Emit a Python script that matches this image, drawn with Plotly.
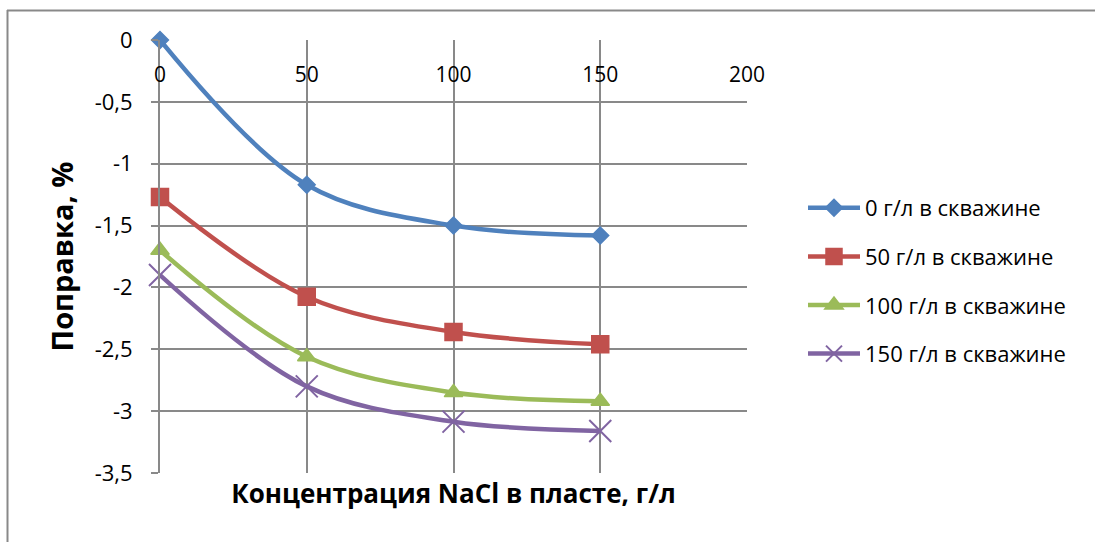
import plotly.graph_objects as go

# Concentration of NaCl in the formation, g/l
conc = [0, 50, 100, 150]

# Correction (%) for each NaCl concentration in the well
corr_0 = [0.0, -1.17, -1.50, -1.58]
corr_50 = [-1.27, -2.075, -2.36, -2.46]
corr_100 = [-1.70, -2.56, -2.85, -2.92]
corr_150 = [-1.90, -2.80, -3.085, -3.16]

series_names = [
    "0 г/л в скважине",
    "50 г/л в скважине",
    "100 г/л в скважине",
    "150 г/л в скважине",
]
series_values = [corr_0, corr_50, corr_100, corr_150]

x_ticks = [0, 50, 100, 150, 200]
y_ticks = [0, -0.5, -1, -1.5, -2, -2.5, -3, -3.5]

colors = ["#4F81BD", "#C0504D", "#9BBB59", "#8064A2"]
symbols = ["diamond", "square", "triangle-up", "x-thin"]
sizes = [13, 17, 16, 22]
mline = [1.5, 1.5, 1.5, 2]

W, H = 1095, 542
L, R, T, B = 160, 348, 40, 69
FONT = "'Open Sans', sans-serif"
GRID = "#898989"


def fmt(v):
    # decimal comma and a plain hyphen for negative values
    return f"{v:g}".replace(".", ",")


fig = go.Figure()
for i, (name, vals) in enumerate(zip(series_names, series_values)):
    fig.add_trace(go.Scatter(
        x=conc, y=vals, name=name, mode="lines+markers",
        line=dict(color=colors[i], width=4.5, shape="spline", smoothing=1.0),
        marker=dict(symbol=symbols[i], size=sizes[i], color=colors[i],
                    line=dict(color=colors[i], width=mline[i])),
        legendgroup=f"g{i}", cliponaxis=False,
    ))

pw = W - L - R
ph = H - T - B


def px_x(p):
    return (p - L) / pw


def px_y(p):
    return (H - B - p) / ph


# outer chart frame (top and left edges)
fig.add_shape(type="line", xref="paper", yref="paper",
              x0=px_x(7), x1=px_x(W + 5), y0=px_y(10.5), y1=px_y(10.5),
              line=dict(color=GRID, width=2))
fig.add_shape(type="line", xref="paper", yref="paper",
              x0=px_x(7.5), x1=px_x(7.5), y0=px_y(10), y1=px_y(H + 5),
              line=dict(color=GRID, width=2))

fig.update_layout(
    width=W, height=H,
    margin=dict(l=L, r=R, t=T, b=B),
    paper_bgcolor="white", plot_bgcolor="white",
    font=dict(family=FONT, size=20, color="#000000"),
    xaxis=dict(
        range=[0, 200], tickvals=x_ticks,
        showgrid=True, gridcolor=GRID, gridwidth=2,
        showticklabels=False, zeroline=False, showline=False,
        title=dict(text="<b>Концентрация NaCl в пласте, г/л</b>",
                   font=dict(family=FONT, size=26), standoff=11),
    ),
    xaxis2=dict(
        overlaying="x", matches="x", anchor="free", position=1.0,
        side="bottom", range=[0, 200],
        tickvals=x_ticks, ticktext=[fmt(v) for v in x_ticks],
        showgrid=False, zeroline=False, showline=False,
        ticks="", ticklabelstandoff=20,
        tickfont=dict(family=FONT, size=21),
    ),
    yaxis=dict(
        range=[-3.5, 0],
        tickvals=y_ticks, ticktext=[fmt(v) for v in y_ticks],
        showgrid=True, gridcolor=GRID, gridwidth=2,
        zeroline=False, showline=True, linecolor=GRID, linewidth=2,
        ticks="outside", ticklen=7, tickcolor=GRID, tickwidth=2,
        ticklabelstandoff=14,
        tickfont=dict(family=FONT, size=22),
        title=dict(text="<b>Поправка, %</b>",
                   font=dict(family=FONT, size=29), standoff=13),
    ),
    legend=dict(
        x=px_x(803), y=px_y(187), xanchor="left", yanchor="top",
        font=dict(family=FONT, size=22),
        tracegroupgap=17, traceorder="grouped", itemwidth=52,
        bgcolor="rgba(0,0,0,0)",
    ),
)

# invisible trace so that the top tick-label axis is drawn
fig.add_trace(go.Scatter(x=conc, y=corr_0, xaxis="x2", mode="none",
                         showlegend=False, hoverinfo="skip"))

fig.write_html("out.html")
